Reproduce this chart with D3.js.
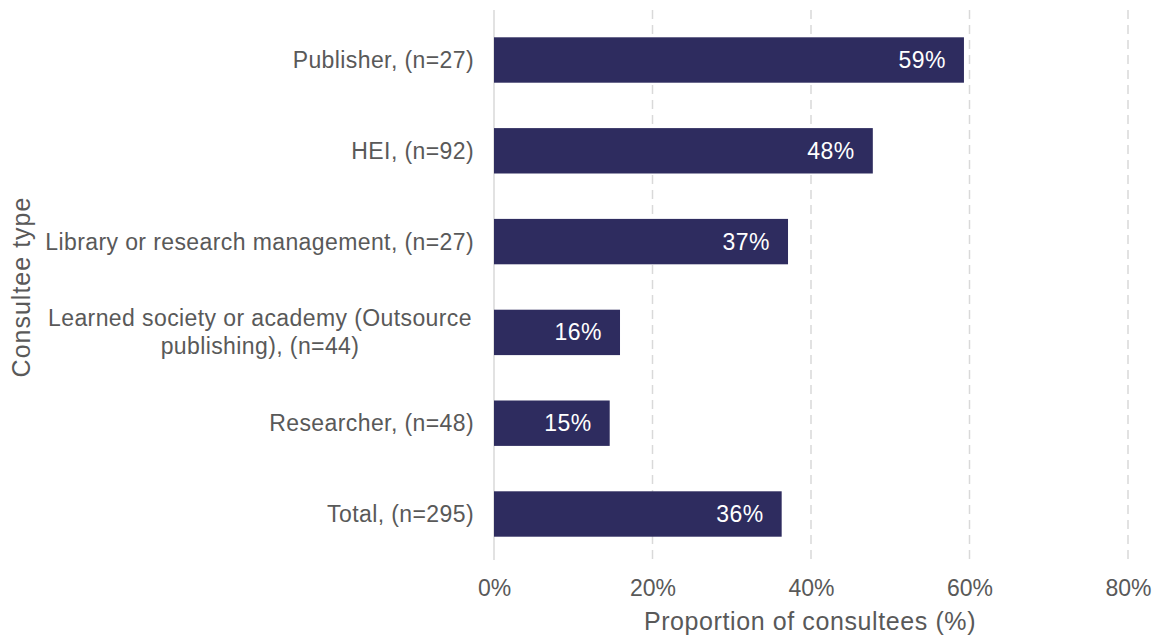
<!DOCTYPE html>
<html><head><meta charset="utf-8">
<script src="https://cdn.jsdelivr.net/npm/d3@7"></script>
<style>body{margin:0;background:#fff;} svg{display:block;font-family:"Liberation Sans",Arial,sans-serif;}</style>
</head><body>
<svg id="c" width="1154" height="637"></svg>
<script>
const categories = [
  ["Publisher, (n=27)"],
  ["HEI, (n=92)"],
  ["Library or research management, (n=27)"],
  ["Learned society or academy (Outsource", "publishing), (n=44)"],
  ["Researcher, (n=48)"],
  ["Total, (n=295)"]
];
const values = [59.3, 47.8, 37.1, 15.9, 14.6, 36.3];
const valueLabels = ["59%", "48%", "37%", "16%", "15%", "36%"];
const xTicks = [0, 20, 40, 60, 80];

const svg = d3.select("#c");
const x = d3.scaleLinear().domain([0, 80]).range([494, 1128]);
const y = d3.scaleBand().domain(d3.range(categories.length)).range([14.6, 559.4]).paddingInner(0.5).paddingOuter(0.25);

// gridlines
svg.append("g").selectAll("line").data(xTicks).join("line")
  .attr("x1", d => x(d)).attr("x2", d => x(d))
  .attr("y1", 10).attr("y2", 560)
  .attr("stroke", "#d9d9d9").attr("stroke-width", 1.5)
  .attr("stroke-dasharray", d => d === 0 ? null : "9,6");

// bars
svg.append("g").selectAll("rect").data(values).join("rect")
  .attr("x", x(0)).attr("y", (d, i) => y(i))
  .attr("width", d => x(d) - x(0)).attr("height", y.bandwidth())
  .attr("fill", "#2e2c5f");

// value labels
svg.append("g").selectAll("text").data(values).join("text")
  .attr("x", d => x(d) - 18).attr("y", (d, i) => y(i) + y.bandwidth() / 2)
  .attr("dy", "0.35em").attr("text-anchor", "end")
  .attr("letter-spacing", 0.5)
  .attr("fill", "#fff").attr("font-size", 23).text((d, i) => valueLabels[i]);

// category labels
const cg = svg.append("g").selectAll("text").data(categories).join("text")
  .attr("fill", "#595959").attr("font-size", 23).attr("letter-spacing", 0.4);
cg.each(function(lines, i) {
  const t = d3.select(this);
  const cy = y(i) + y.bandwidth() / 2;
  const lh = 28;
  const anchorX = lines.length > 1 ? 260 : 474;
  t.attr("text-anchor", lines.length > 1 ? "middle" : "end");
  lines.forEach((l, j) => {
    t.append("tspan").attr("x", anchorX)
      .attr("y", cy + (j - (lines.length - 1) / 2) * lh).attr("dy", "0.35em").text(l);
  });
});

// x axis tick labels
const xAxis = d3.axisBottom(x).tickValues(xTicks).tickFormat(d => d + "%").tickSize(0).tickPadding(0);
const xg = svg.append("g").attr("transform", "translate(0,580)").call(xAxis);
xg.select(".domain").remove();
xg.selectAll("text").attr("font-size", 23).attr("fill", "#595959").attr("font-family", "Liberation Sans, Arial, sans-serif");

// axis titles
svg.append("text").attr("x", 810).attr("y", 630).attr("text-anchor", "middle")
  .attr("font-size", 25).attr("letter-spacing", 0.6).attr("fill", "#595959").text("Proportion of consultees (%)");
svg.append("text").attr("transform", "translate(30,287) rotate(-90)").attr("text-anchor", "middle")
  .attr("font-size", 25).attr("letter-spacing", 1).attr("fill", "#595959").text("Consultee type");
</script>
</body></html>
